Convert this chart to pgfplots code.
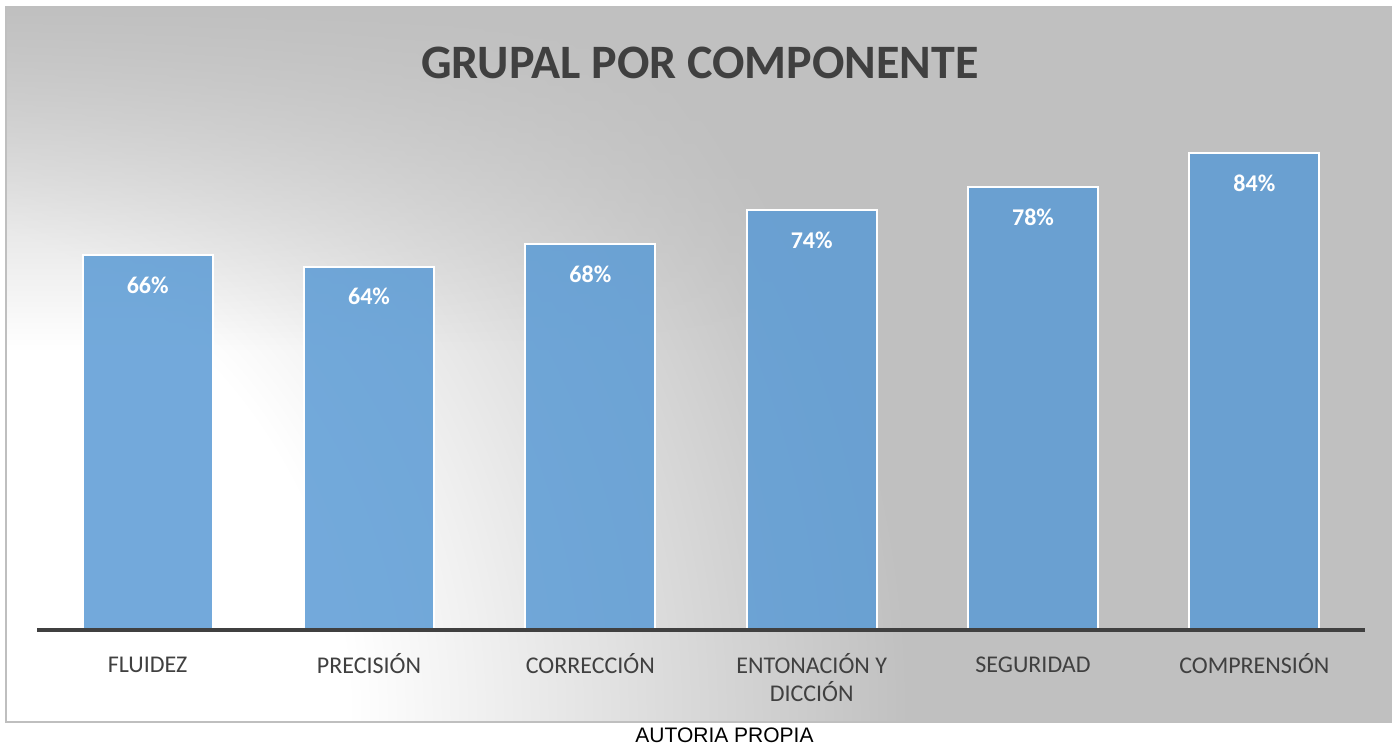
\documentclass[border=0pt]{standalone}
\usepackage{pgfplots}
\pgfplotsset{compat=1.18}
\usetikzlibrary{fadings}
\usepackage{fontspec}
\setmainfont{Carlito}
\newfontfamily\arialfont{Liberation Sans}
\definecolor{barblue}{HTML}{5B9BD5}
\definecolor{bggray}{HTML}{C0C0C0}
\definecolor{textgray}{HTML}{404040}
\definecolor{framegray}{HTML}{BFBFBF}
% white glow from the lower left of the chart area
\pgfdeclareradialshading{bgglow}{\pgfpoint{0bp}{0bp}}{color(0bp)=(white); color(10.8bp)=(white); color(22.5bp)=(bggray); color(25bp)=(bggray); color(50bp)=(bggray)}
\newcommand{\ts}{\rule{0pt}{9.5pt}}

\begin{document}
\begin{tikzpicture}
\useasboundingbox (0pt,0pt) rectangle (698.5pt,373pt);
\begin{scope}
  \clip (3pt,12pt) rectangle (695.5pt,369.5pt);
  \fill[bggray] (3pt,12pt) rectangle (695.5pt,369.5pt);
  \shade[shading=bgglow] (-85.5pt,13pt) circle (600pt);
  \fill[bggray, path fading=south] (3pt,198pt) rectangle (695.5pt,369.5pt);
\end{scope}
\draw[framegray, line width=0.8pt] (3pt,12pt) rectangle (695.5pt,369.5pt);

\begin{axis}[
  at={(18.5pt,58pt)}, anchor=south west,
  scale only axis, width=664pt, height=283.75pt,
  xmin=-0.5, xmax=5.5, ymin=0, ymax=100,
  ybar, bar width=65pt,
  axis on top,
  hide y axis,
  axis x line*=bottom,
  x axis line style={textgray, line width=2pt, -},
  xtick={0,...,5}, xtick style={draw=none},
  xticklabels={\ts FLUIDEZ, \ts PRECISIÓN, \ts CORRECCIÓN, {\ts ENTONACIÓN Y\\DICCIÓN}, \ts SEGURIDAD, \ts COMPRENSIÓN},
  x tick label style={font=\fontsize{12}{14}\selectfont, text=textgray, align=center,
    anchor=north, yshift=-4pt},
  nodes near coords={\pgfmathprintnumber{\pgfplotspointmeta}\%},
  every node near coord/.append style={font=\fontsize{12}{14}\selectfont\bfseries, text=white, anchor=center, yshift=-15pt, text opacity=1},
  /pgf/number format/assume math mode=true,
]
\addplot[fill=barblue, fill opacity=0.85, draw=white, line width=1pt]
  coordinates {(0,66) (1,64) (2,68) (3,74) (4,78) (5,84)};
\end{axis}

\node[font=\fontsize{24}{28}\selectfont\bfseries, text=textgray] at (350pt,341.5pt) {GRUPAL POR COMPONENTE};
\node[font=\arialfont\fontsize{10.5}{12}\selectfont] at (362.25pt,5.5pt) {AUTORIA PROPIA};
\end{tikzpicture}
\end{document}
